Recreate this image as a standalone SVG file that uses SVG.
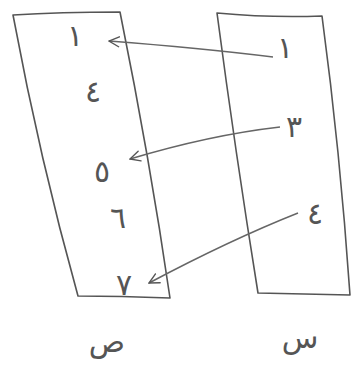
<svg xmlns="http://www.w3.org/2000/svg" width="358" height="373" viewBox="0 0 358 373">
<defs>
<marker id="arr" viewBox="0 0 12 12" refX="11" refY="6" markerWidth="12" markerHeight="12" markerUnits="userSpaceOnUse" orient="auto">
<path d="M1,1 L11,6 L1,11" fill="none" stroke="#555" stroke-width="1.4" stroke-linecap="round"/>
</marker>
<style>
.box{fill:none;stroke:#555;stroke-width:1.6;stroke-linejoin:round}
.con{fill:none;stroke:#666;stroke-width:1.5}
.num{font-family:"DejaVu Sans",sans-serif;font-size:30px;fill:#555;text-anchor:middle}
.lbl{font-family:"DejaVu Sans",sans-serif;font-size:30px;fill:#555;text-anchor:middle}
</style>
</defs>
<rect width="358" height="373" fill="#fff"/>
<g id="setY">
<path class="box" d="M13,15 Q60,12 120,12 Q150,160 170,298 Q120,296 78,296 Q40,160 13,15 Z"/>
<text class="num" x="75" y="46">١</text>
<text class="num" x="93" y="102">٤</text>
<text class="num" x="102" y="182">٥</text>
<text class="num" x="118" y="228">٦</text>
<text class="num" x="124" y="295">٧</text>
<text class="lbl" x="107" y="352">ص</text>
</g>
<g id="setX">
<path class="box" d="M217,13 Q270,18 322,16 Q340,150 350,295 Q300,294 258,293 Q235,150 217,13 Z"/>
<text class="num" x="285" y="58">١</text>
<text class="num" x="294" y="137">٣</text>
<text class="num" x="315" y="224">٤</text>
<text class="lbl" x="300" y="348">س</text>
</g>
<g id="connectors">
<path class="con" d="M273,57 Q200,48 109,41" marker-end="url(#arr)"/>
<path class="con" d="M280,127 Q210,135 130,159" marker-end="url(#arr)"/>
<path class="con" d="M298,213 Q230,240 149,283" marker-end="url(#arr)"/>
</g>
</svg>
